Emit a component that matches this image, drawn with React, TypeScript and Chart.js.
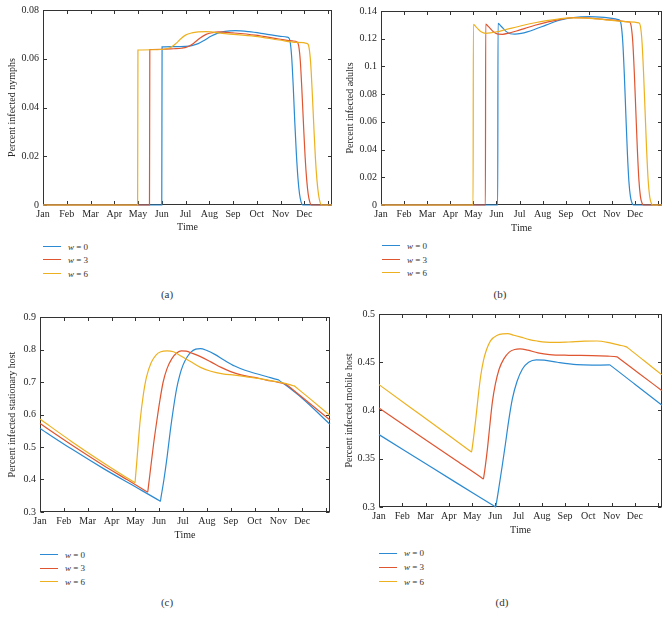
import React, { useEffect, useRef } from "react";
import { Chart, registerables } from "chart.js";

Chart.register(...registerables);
Chart.defaults.font.family = "'Liberation Serif', 'Times New Roman', serif";
Chart.defaults.color = "#262626";

type Pt = [number, number];

// ---------- shared axis data ----------
const MONTHS = ["Jan", "Feb", "Mar", "Apr", "May", "Jun", "Jul", "Aug", "Sep", "Oct", "Nov", "Dec"];
const MONTH_TICKS = [0, 30, 60, 90, 120, 150, 180, 210, 240, 270, 300, 330, 360];
const X_MAX = 365;
const X_TITLE = "Time";

const SERIES_W = ["0", "3", "6"];
const SERIES_COLORS = ["#2b8ad2", "#df5530", "#edb120"];

// ---------- (a) infected nymphs ----------
const NYMPH_Y_TICKS = [0, 0.02, 0.04, 0.06, 0.08];
const NYMPH_Y_LABELS = ["0", "0.02", "0.04", "0.06", "0.08"];
const NYMPH_W0: Pt[] = [
  [0, 0], [150, 0], [150.4, 0.0649], [165, 0.065], [180, 0.0651], [188, 0.0654], [196, 0.0662],
  [204, 0.0676], [212, 0.0692], [220, 0.0704], [230, 0.0712], [243, 0.0715], [260, 0.0711],
  [280, 0.0702], [298, 0.0693], [308, 0.0689], [310, 0.0687], [312, 0.0672], [314, 0.061],
  [316, 0.049], [318, 0.034], [320, 0.021], [322, 0.011], [324, 0.0045], [326, 0.0012], [328, 0], [365, 0],
];
const NYMPH_W3: Pt[] = [
  [0, 0], [134.5, 0], [134.9, 0.0638], [150, 0.0639], [165, 0.0641], [175, 0.0643], [182, 0.0648],
  [190, 0.0663], [198, 0.0684], [206, 0.07], [214, 0.0707], [222, 0.071], [240, 0.0706],
  [268, 0.0697], [298, 0.0681], [315, 0.0673], [321, 0.0669], [323, 0.0652], [325, 0.059],
  [327, 0.047], [329, 0.033], [331, 0.02], [333, 0.0105], [335, 0.0043], [337, 0.0012], [339, 0], [365, 0],
];
const NYMPH_W6: Pt[] = [
  [0, 0], [119.5, 0], [119.9, 0.0636], [140, 0.0637], [155, 0.064], [162, 0.0648], [168, 0.0663],
  [174, 0.0682], [180, 0.0697], [188, 0.0706], [196, 0.071], [206, 0.0711], [230, 0.0703],
  [268, 0.0692], [298, 0.0677], [320, 0.0667], [334, 0.0662], [336, 0.0646], [338, 0.0585],
  [340, 0.0465], [342, 0.0325], [344, 0.0195], [346, 0.0102], [348, 0.0042], [350, 0.0011], [352, 0], [365, 0],
];

// ---------- (b) infected adults ----------
const ADULT_Y_TICKS = [0, 0.02, 0.04, 0.06, 0.08, 0.1, 0.12, 0.14];
const ADULT_Y_LABELS = ["0", "0.02", "0.04", "0.06", "0.08", "0.1", "0.12", "0.14"];
const ADULT_W0: Pt[] = [
  [0, 0], [151.6, 0], [152, 0.1311], [156, 0.129], [162, 0.1255], [168, 0.1236], [174, 0.1233],
  [182, 0.1238], [190, 0.1249], [200, 0.1268], [215, 0.13], [232, 0.1333], [250, 0.1353],
  [270, 0.136], [290, 0.1354], [300, 0.1347], [308, 0.1338], [310, 0.1333], [312, 0.13],
  [314, 0.118], [316, 0.095], [318, 0.066], [320, 0.038], [322, 0.017], [324, 0.006], [326, 0.0015], [328, 0], [365, 0],
];
const ADULT_W3: Pt[] = [
  [0, 0], [135.6, 0], [136, 0.1306], [140, 0.1285], [146, 0.125], [152, 0.1233], [158, 0.1232],
  [166, 0.124], [176, 0.1256], [187, 0.1275], [200, 0.1297], [217, 0.1322], [235, 0.1342],
  [250, 0.1352], [265, 0.1351], [285, 0.1342], [305, 0.1332], [318, 0.1324], [323, 0.1321],
  [325, 0.129], [327, 0.118], [329, 0.096], [331, 0.068], [333, 0.04], [335, 0.018], [337, 0.006],
  [339, 0.0015], [341, 0], [365, 0],
];
const ADULT_W6: Pt[] = [
  [0, 0], [119.6, 0], [120, 0.1304], [124, 0.1282], [130, 0.125], [136, 0.1239], [142, 0.1242],
  [150, 0.125], [160, 0.1263], [170, 0.1277], [185, 0.1297], [200, 0.1315], [215, 0.133],
  [230, 0.1342], [245, 0.135], [260, 0.135], [280, 0.1343], [300, 0.1332], [320, 0.1322],
  [335, 0.1314], [337, 0.129], [339, 0.118], [341, 0.096], [343, 0.068], [345, 0.04], [347, 0.018],
  [349, 0.006], [351, 0.0015], [353, 0], [365, 0],
];

// ---------- (c) infected stationary host ----------
const STAT_Y_TICKS = [0.3, 0.4, 0.5, 0.6, 0.7, 0.8, 0.9];
const STAT_Y_LABELS = ["0.3", "0.4", "0.5", "0.6", "0.7", "0.8", "0.9"];
const STAT_W0: Pt[] = [
  [0, 0.557], [40, 0.4935], [80, 0.4335], [120, 0.3775], [150.5, 0.3345], [151.5, 0.333], [152.3, 0.345],
  [156, 0.4], [160, 0.47], [164, 0.55], [168, 0.62], [172, 0.68], [176, 0.722], [180, 0.752],
  [185, 0.776], [190, 0.792], [196, 0.801], [202, 0.803], [210, 0.797], [220, 0.785], [232, 0.767],
  [245, 0.749], [258, 0.736], [270, 0.727], [285, 0.717], [299, 0.7075], [300, 0.707], [301, 0.705],
  [310, 0.689], [330, 0.65], [365, 0.57],
];
const STAT_W3: Pt[] = [
  [0, 0.572], [40, 0.506], [80, 0.4432], [110, 0.399], [134.5, 0.3625], [135.5, 0.361], [136.3, 0.375],
  [139, 0.43], [143, 0.51], [147, 0.58], [151, 0.645], [155, 0.7], [160, 0.742], [166, 0.772],
  [172, 0.789], [178, 0.796], [184, 0.795], [192, 0.788], [202, 0.778], [215, 0.762], [228, 0.745],
  [240, 0.732], [253, 0.722], [270, 0.714], [285, 0.706], [300, 0.699], [309, 0.6935], [310, 0.693],
  [311, 0.691], [330, 0.653], [365, 0.583],
];
const STAT_W6: Pt[] = [
  [0, 0.586], [40, 0.5165], [80, 0.451], [118.5, 0.3915], [119.5, 0.39], [120.3, 0.41], [122, 0.46],
  [126, 0.58], [130, 0.66], [134, 0.715], [140, 0.76], [146, 0.783], [152, 0.793], [160, 0.796],
  [168, 0.793], [178, 0.779], [190, 0.762], [202, 0.745], [215, 0.733], [230, 0.725], [245, 0.721],
  [260, 0.716], [280, 0.709], [300, 0.7], [310, 0.695], [319, 0.6885], [320, 0.688], [321, 0.686],
  [340, 0.648], [365, 0.597],
];

// ---------- (d) infected mobile host ----------
const MOB_Y_TICKS = [0.3, 0.35, 0.4, 0.45, 0.5];
const MOB_Y_LABELS = ["0.3", "0.35", "0.4", "0.45", "0.5"];
const MOB_W0: Pt[] = [
  [0, 0.375], [50, 0.35], [100, 0.325], [149.5, 0.3005], [150.5, 0.3], [151.3, 0.3035], [155, 0.322],
  [159, 0.343], [163, 0.365], [167, 0.388], [172, 0.412], [178, 0.43], [185, 0.443], [193, 0.45],
  [203, 0.4525], [213, 0.4522], [230, 0.45], [255, 0.4475], [275, 0.447], [297, 0.4472], [298, 0.4471],
  [299, 0.4465], [330, 0.4272], [365, 0.4055],
];
const MOB_W3: Pt[] = [
  [0, 0.4025], [50, 0.3752], [100, 0.3479], [133.5, 0.3296], [134.5, 0.329], [135.3, 0.332],
  [139.8, 0.36], [143, 0.385], [146.2, 0.4086], [150, 0.427], [155, 0.443], [161, 0.4535], [168, 0.4605],
  [175, 0.4632], [182, 0.4638], [192, 0.4625], [205, 0.4598], [220, 0.458], [245, 0.4572], [275, 0.4569],
  [295, 0.4563], [307, 0.4555], [308, 0.4551], [309, 0.4545], [335, 0.4387], [365, 0.4205],
];
const MOB_W6: Pt[] = [
  [0, 0.4268], [40, 0.4034], [80, 0.38], [118.3, 0.3576], [119.3, 0.357], [120.1, 0.3605], [122, 0.372],
  [124.8, 0.391], [128, 0.415], [131.2, 0.436], [134.5, 0.451], [137.6, 0.4604], [144, 0.4724],
  [152.6, 0.478], [160, 0.4795], [166, 0.4797], [174, 0.478], [183, 0.476], [194, 0.4735], [204, 0.472],
  [215, 0.4708], [228, 0.4705], [245, 0.471], [265, 0.4718], [281, 0.472], [298, 0.47], [310, 0.4678],
  [318, 0.4662], [320, 0.4655], [321, 0.4649], [342, 0.4515], [365, 0.4369],
];

const AXIS_COLOR = "#333333";
const TICK_LEN = 3.5;

const boxPlugin = {
  id: "matlabBox",
  beforeDatasetsDraw(chart: any) {
    const { ctx, chartArea, scales } = chart;
    const L = Math.round(chartArea.left) + 0.5;
    const R = Math.round(chartArea.right) - 0.5;
    const T = Math.round(chartArea.top) + 0.5;
    const B = Math.round(chartArea.bottom) - 0.5;
    ctx.save();
    ctx.strokeStyle = AXIS_COLOR;
    ctx.lineWidth = 1;
    ctx.strokeRect(L, T, R - L, B - T);
    ctx.beginPath();
    for (const t of scales.x.ticks) {
      const px = Math.round(scales.x.getPixelForValue(t.value)) + 0.5;
      ctx.moveTo(px, B);
      ctx.lineTo(px, B - TICK_LEN);
      ctx.moveTo(px, T);
      ctx.lineTo(px, T + TICK_LEN);
    }
    for (const t of scales.y.ticks) {
      const py = Math.round(scales.y.getPixelForValue(t.value)) + 0.5;
      ctx.moveTo(L, py);
      ctx.lineTo(L + TICK_LEN, py);
      ctx.moveTo(R, py);
      ctx.lineTo(R - TICK_LEN, py);
    }
    ctx.stroke();
    ctx.restore();
  },
};

type PanelProps = {
  left: number;
  top: number;
  width: number;
  height: number;
  yWidth: number;
  padTop: number;
  padRight: number;
  xHeight: number;
  yTitlePad: number;
  yTitle: string;
  yTicks: number[];
  yLabels: string[];
  series: Pt[][];
};

function Panel(p: PanelProps) {
  const ref = useRef<HTMLCanvasElement>(null);
  useEffect(() => {
    const yMin = p.yTicks[0];
    const yMax = p.yTicks[p.yTicks.length - 1];
    const chart = new Chart(ref.current as HTMLCanvasElement, {
      type: "line",
      data: {
        datasets: p.series.map((s, i) => ({
          label: "w = " + SERIES_W[i],
          data: s.map(([x, y]) => ({ x, y })),
          borderColor: SERIES_COLORS[i],
          backgroundColor: SERIES_COLORS[i],
          borderWidth: 1.2,
          pointRadius: 0,
          fill: false,
          cubicInterpolationMode: "monotone",
          clip: false,
          order: p.series.length - i,
        })),
      },
      options: {
        responsive: false,
        animation: false,
        events: [],
        layout: { padding: { top: p.padTop, right: p.padRight, left: 0, bottom: 0 } },
        plugins: { legend: { display: false }, tooltip: { enabled: false } },
        scales: {
          x: {
            type: "linear",
            min: 0,
            max: X_MAX,
            grid: { display: false, drawTicks: false },
            border: { display: false },
            afterBuildTicks: (s: any) => {
              s.ticks = MONTH_TICKS.map((v) => ({ value: v }));
            },
            afterFit: (s: any) => {
              s.height = p.xHeight;
            },
            ticks: {
              autoSkip: false,
              maxRotation: 0,
              padding: 3,
              font: { size: 10 },
              color: "#262626",
              callback: (_v: any, i: number) => MONTHS[i] ?? "",
            },
            title: { display: true, text: X_TITLE, padding: { top: 0, bottom: 0 }, font: { size: 10 }, color: "#262626" },
          },
          y: {
            type: "linear",
            min: yMin,
            max: yMax,
            grid: { display: false, drawTicks: false },
            border: { display: false },
            afterBuildTicks: (s: any) => {
              s.ticks = p.yTicks.map((v) => ({ value: v }));
            },
            afterFit: (s: any) => {
              s.width = p.yWidth;
            },
            ticks: {
              autoSkip: false,
              padding: 4,
              font: { size: 10 },
              color: "#262626",
              callback: (_v: any, i: number) => p.yLabels[i] ?? "",
            },
            title: { display: true, text: p.yTitle, padding: { top: p.yTitlePad, bottom: 0 }, font: { size: 10 }, color: "#262626" },
          },
        },
      },
      plugins: [boxPlugin],
    } as any);
    return () => chart.destroy();
  }, []);
  return (
    <canvas
      ref={ref}
      width={p.width}
      height={p.height}
      style={{ position: "absolute", left: p.left, top: p.top, width: p.width, height: p.height }}
    />
  );
}

function Legend(props: { x: number; textX: number; rows: number[] }) {
  return (
    <>
      {props.rows.map((y, i) => (
        <div key={i}>
          <div
            style={{
              position: "absolute",
              left: props.x,
              top: y - 0.6,
              width: props.textX - props.x - 7,
              height: 0,
              borderTop: `1.2px solid ${SERIES_COLORS[i]}`,
            }}
          />
          <div
            style={{
              position: "absolute",
              left: props.textX,
              top: y - 7,
              height: 14,
              lineHeight: "14px",
              fontSize: 9,
              color: "#333",
              whiteSpace: "nowrap",
              fontFamily: "'Liberation Serif', 'Times New Roman', serif",
            }}
          >
            <i>w</i> = {SERIES_W[i]}
          </div>
        </div>
      ))}
    </>
  );
}

function Caption(props: { x: number; y: number; text: string }) {
  return (
    <div
      style={{
        position: "absolute",
        left: props.x - 20,
        width: 40,
        top: props.y - 7,
        height: 14,
        lineHeight: "14px",
        textAlign: "center",
        fontSize: 11,
        color: "#333",
        fontFamily: "'Liberation Serif', 'Times New Roman', serif",
      }}
    >
      {props.text}
    </div>
  );
}

export default function App() {
  return (
    <div style={{ position: "absolute", left: 0, top: 0, width: 672, height: 624, background: "#fff", overflow: "hidden" }}>
      <Panel
        left={0} top={0} width={336} height={233}
        yWidth={43} padTop={10} padRight={4} xHeight={28} yTitlePad={6}
        yTitle="Percent infected nymphs" yTicks={NYMPH_Y_TICKS} yLabels={NYMPH_Y_LABELS}
        series={[NYMPH_W0, NYMPH_W3, NYMPH_W6]}
      />
      <Panel
        left={336} top={0} width={336} height={234}
        yWidth={45} padTop={11} padRight={10} xHeight={29} yTitlePad={8}
        yTitle="Percent infected adults" yTicks={ADULT_Y_TICKS} yLabels={ADULT_Y_LABELS}
        series={[ADULT_W0, ADULT_W3, ADULT_W6]}
      />
      <Panel
        left={0} top={306} width={336} height={235}
        yWidth={40} padTop={11} padRight={6} xHeight={29} yTitlePad={6}
        yTitle="Percent infected stationary host" yTicks={STAT_Y_TICKS} yLabels={STAT_Y_LABELS}
        series={[STAT_W0, STAT_W3, STAT_W6]}
      />
      <Panel
        left={336} top={302} width={336} height={234}
        yWidth={43} padTop={12} padRight={10} xHeight={29} yTitlePad={7}
        yTitle="Percent infected mobile host" yTicks={MOB_Y_TICKS} yLabels={MOB_Y_LABELS}
        series={[MOB_W0, MOB_W3, MOB_W6]}
      />
      <Legend x={43} textX={68} rows={[246.7, 260, 274]} />
      <Legend x={382} textX={407} rows={[246, 259.5, 273]} />
      <Legend x={40} textX={65} rows={[555, 568.3, 581.7]} />
      <Legend x={379} textX={404} rows={[553.3, 567.3, 581.7]} />
      <Caption x={167} y={294} text="(a)" />
      <Caption x={500} y={294} text="(b)" />
      <Caption x={167} y={602} text="(c)" />
      <Caption x={502} y={602} text="(d)" />
    </div>
  );
}
